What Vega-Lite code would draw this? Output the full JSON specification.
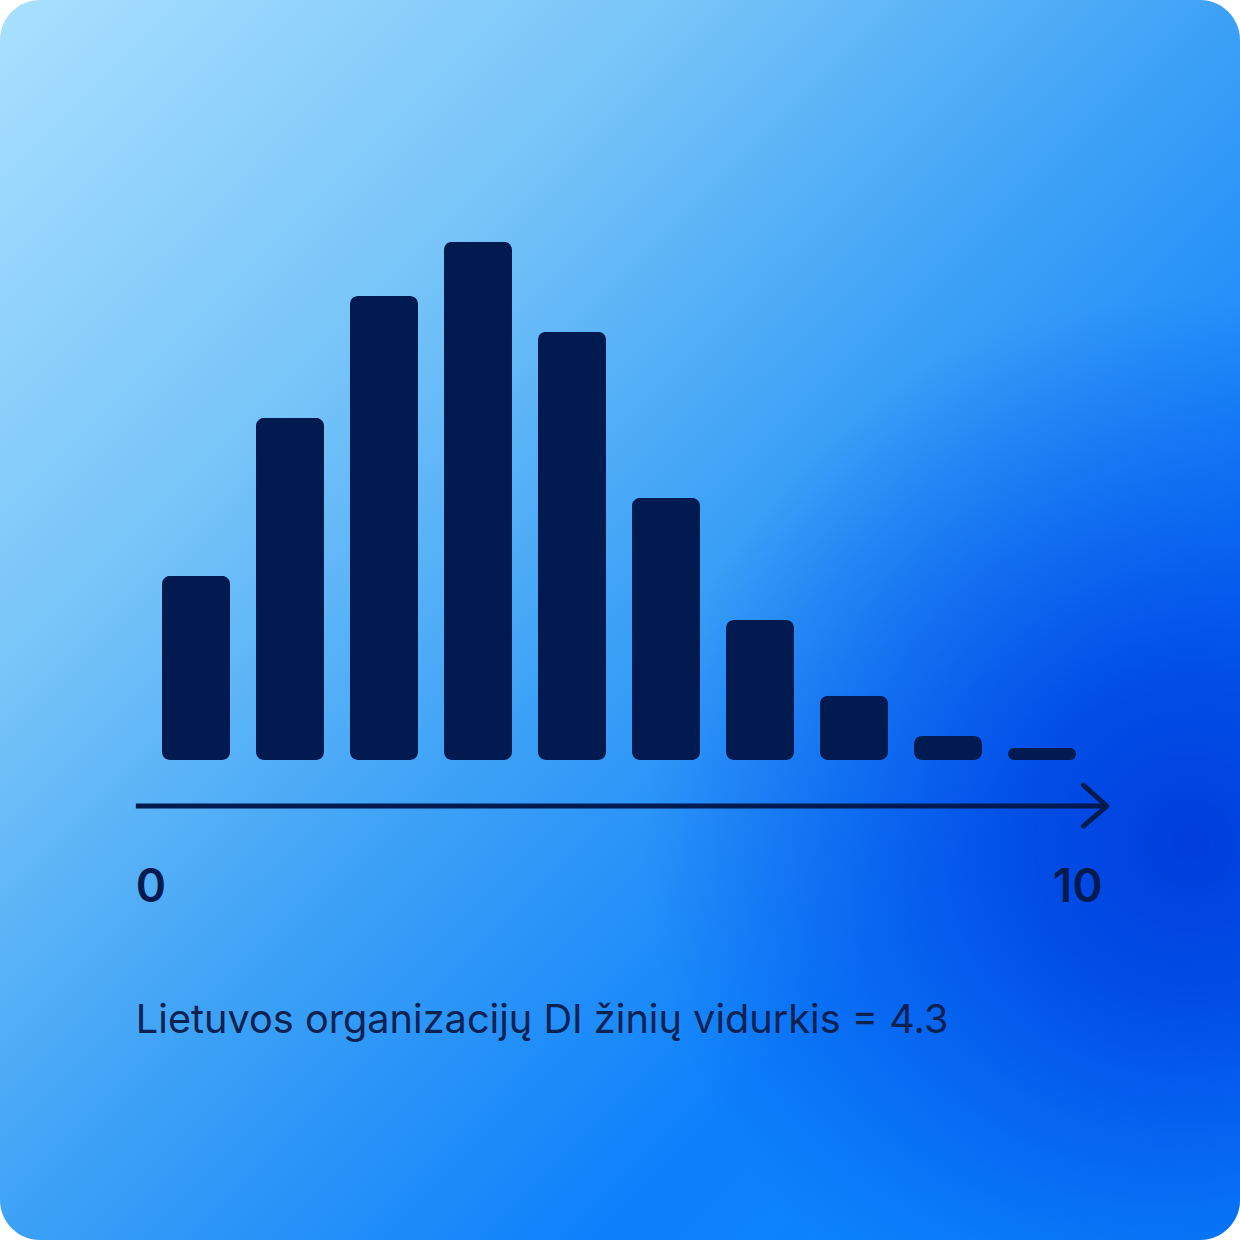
{
  "$schema": "https://vega.github.io/schema/vega-lite/v6.json",
  "width": 1240,
  "height": 1240,
  "autosize": {"type": "none"},
  "padding": 0,
  "background": "#ffffff",
  "datasets": {
    "panel": [{"panel": "background"}],
    "bars": [
      {"score": 1, "mid": 0.5, "share": 7.55},
      {"score": 2, "mid": 1.5, "share": 14.03},
      {"score": 3, "mid": 2.5, "share": 19.03},
      {"score": 4, "mid": 3.5, "share": 21.25},
      {"score": 5, "mid": 4.5, "share": 17.56},
      {"score": 6, "mid": 5.5, "share": 10.75},
      {"score": 7, "mid": 6.5, "share": 5.74},
      {"score": 8, "mid": 7.5, "share": 2.63},
      {"score": 9, "mid": 8.5, "share": 0.98},
      {"score": 10, "mid": 9.5, "share": 0.49}
    ],
    "axis_line": [{"x_start": -0.14, "x_end": 10.17, "y": -1.89}],
    "arrow_head": [
      {"i": 1, "x": 9.94, "y": -1.03},
      {"i": 2, "x": 10.19, "y": -1.89},
      {"i": 3, "x": 9.94, "y": -2.71}
    ],
    "ends": [
      {"label": "0", "x": 0.02, "y": -5.82},
      {"label": "10", "x": 9.88, "y": -5.82}
    ],
    "caption": [
      {"text": "Lietuvos organizacijų DI žinių vidurkis = 4.3", "x": -0.14, "y": -11.2}
    ]
  },
  "layer": [
    {
      "data": {"name": "panel"},
      "mark": {
        "type": "rect",
        "cornerRadius": 40,
        "fill": {
          "gradient": "linear",
          "x1": 0, "y1": 0, "x2": 1, "y2": 1,
          "stops": [
            {"offset": 0, "color": "#a9e0ff"},
            {"offset": 0.28, "color": "#76c4f8"},
            {"offset": 0.5, "color": "#3ca1f6"},
            {"offset": 0.74, "color": "#0d80fb"},
            {"offset": 1, "color": "#0a8aff"}
          ]
        }
      }
    },
    {
      "data": {"name": "panel"},
      "mark": {
        "type": "rect",
        "cornerRadius": 40,
        "fill": {
          "gradient": "radial",
          "x1": 0.96, "y1": 0.68, "r1": 0,
          "x2": 0.96, "y2": 0.68, "r2": 0.44,
          "stops": [
            {"offset": 0, "color": "rgba(0,62,222,1)"},
            {"offset": 0.3, "color": "rgba(0,68,226,0.85)"},
            {"offset": 1, "color": "rgba(2,80,235,0)"}
          ]
        }
      }
    },
    {
      "data": {"name": "bars"},
      "mark": {"type": "bar", "width": 68, "cornerRadius": 8, "color": "#011b50"},
      "encoding": {
        "x": {"field": "mid", "type": "quantitative", "axis": null,
              "scale": {"domain": [0, 10], "range": [149, 1089], "padding": 0}},
        "y": {"field": "share", "type": "quantitative", "axis": null,
              "scale": {"domain": [0, 31.17], "range": [760, 0], "padding": 0}}
      }
    },
    {
      "data": {"name": "axis_line"},
      "mark": {"type": "rule", "color": "#011b50", "strokeWidth": 5},
      "encoding": {
        "x": {"field": "x_start", "type": "quantitative", "axis": null,
              "scale": {"domain": [0, 10], "range": [149, 1089], "padding": 0}},
        "x2": {"field": "x_end"},
        "y": {"field": "y", "type": "quantitative", "axis": null,
              "scale": {"domain": [0, 31.17], "range": [760, 0], "padding": 0}}
      }
    },
    {
      "data": {"name": "arrow_head"},
      "mark": {"type": "line", "color": "#011b50", "strokeWidth": 5,
               "strokeCap": "round", "strokeJoin": "round"},
      "encoding": {
        "x": {"field": "x", "type": "quantitative", "axis": null,
              "scale": {"domain": [0, 10], "range": [149, 1089], "padding": 0}},
        "y": {"field": "y", "type": "quantitative", "axis": null,
              "scale": {"domain": [0, 31.17], "range": [760, 0], "padding": 0}},
        "order": {"field": "i"}
      }
    },
    {
      "data": {"name": "ends"},
      "mark": {"type": "text", "font": "Inter", "fontSize": 46, "fontWeight": 600,
               "color": "#011b50", "align": "center", "baseline": "alphabetic"},
      "encoding": {
        "x": {"field": "x", "type": "quantitative", "axis": null,
              "scale": {"domain": [0, 10], "range": [149, 1089], "padding": 0}},
        "y": {"field": "y", "type": "quantitative", "axis": null,
              "scale": {"domain": [0, 31.17], "range": [760, 0], "padding": 0}},
        "text": {"field": "label"}
      }
    },
    {
      "data": {"name": "caption"},
      "mark": {"type": "text", "font": "Inter", "fontSize": 39.7, "fontWeight": 400,
               "color": "#0b2150", "align": "left", "baseline": "alphabetic"},
      "encoding": {
        "x": {"field": "x", "type": "quantitative", "axis": null,
              "scale": {"domain": [0, 10], "range": [149, 1089], "padding": 0}},
        "y": {"field": "y", "type": "quantitative", "axis": null,
              "scale": {"domain": [0, 31.17], "range": [760, 0], "padding": 0}},
        "text": {"field": "text"}
      }
    }
  ],
  "config": {
    "view": {"stroke": null}
  }
}
